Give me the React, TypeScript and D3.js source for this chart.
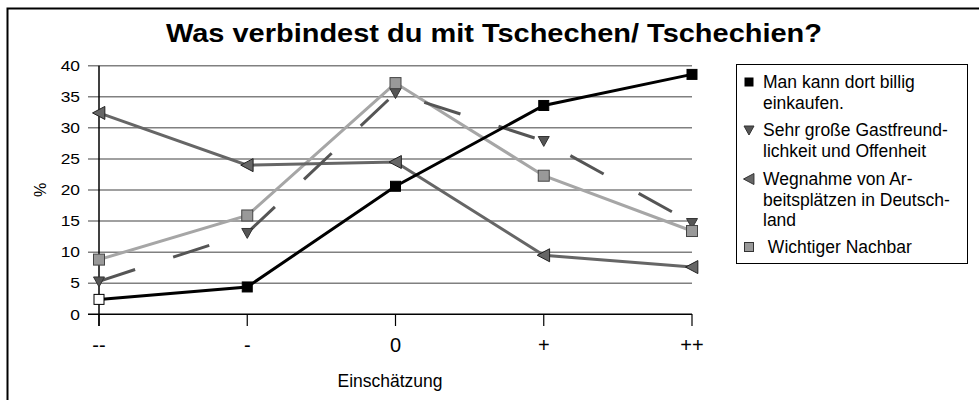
import React from "react";
import * as d3 from "d3";

const categories = ["--", "-", "0", "+", "++"];
const seriesNames = [
  ["Man kann dort billig", "einkaufen."],
  ["Sehr große Gastfreund-", "lichkeit und Offenheit"],
  ["Wegnahme von Ar-", "beitsplätzen in Deutsch-", "land"],
  [" Wichtiger Nachbar"],
];
const billig = [2.4, 4.4, 20.6, 33.6, 38.6];
const gastfreund = [5.3, 13.1, 35.6, 27.9, 14.7];
const wegnahme = [32.4, 24.0, 24.5, 9.5, 7.6];
const nachbar = [8.8, 15.9, 37.2, 22.3, 13.4];
const yTicks = [0, 5, 10, 15, 20, 25, 30, 35, 40];

const FONT = "'Liberation Sans', Arial, sans-serif";

export default function App() {
  const x = d3.scalePoint<string>().domain(categories).range([99, 692]);
  const y = d3.scaleLinear().domain([0, 40]).range([314.3, 65.7]);
  const line = d3
    .line<number>()
    .x((_, i) => x(categories[i]) as number)
    .y((d) => y(d));

  const sq = (cx: number, cy: number, s: number, fill: string, stroke: string, key: string) => (
    <rect key={key} x={cx - s / 2} y={cy - s / 2} width={s} height={s} fill={fill} stroke={stroke} strokeWidth={1} />
  );
  const triDown = (cx: number, cy: number, s: number, fill: string, stroke: string, key: string) => (
    <path
      key={key}
      d={`M${cx - s / 2},${cy - s * 0.4} L${cx + s / 2},${cy - s * 0.4} L${cx},${cy + s * 0.5} Z`}
      fill={fill}
      stroke={stroke}
      strokeWidth={1}
    />
  );
  const triLeft = (cx: number, cy: number, s: number, fill: string, stroke: string, key: string) => (
    <path
      key={key}
      d={`M${cx - s * 0.5},${cy} L${cx + s * 0.45},${cy - s / 2} L${cx + s * 0.45},${cy + s / 2} Z`}
      fill={fill}
      stroke={stroke}
      strokeWidth={1}
    />
  );

  const legendEntries = [
    { lines: seriesNames[0], y0: 82, marker: (cy: number) => sq(749, cy, 8, "#000", "#000", "l0") },
    { lines: seriesNames[1], y0: 130, marker: (cy: number) => triDown(749, cy, 10, "#555", "#333", "l1") },
    { lines: seriesNames[2], y0: 179, marker: (cy: number) => triLeft(749, cy, 11, "#666", "#333", "l2") },
    { lines: seriesNames[3], y0: 247, marker: (cy: number) => sq(749, cy, 9, "#999", "#333", "l3") },
  ];

  return (
    <svg width={979} height={400} style={{ position: "absolute", left: 0, top: 0, background: "#fff" }}>
      <rect x={7.5} y={8.5} width={1000} height={420} fill="#fff" stroke="#000" strokeWidth={2} />
      <text
        x={166}
        y={42}
        fontFamily={FONT}
        fontWeight="bold"
        fontSize={25.5}
        textLength={656}
        lengthAdjust="spacingAndGlyphs"
      >
        Was verbindest du mit Tschechen/ Tschechien?
      </text>

      {/* gridlines */}
      {yTicks.map((t) => (
        <line key={"g" + t} x1={88} x2={692} y1={y(t)} y2={y(t)} stroke={t === 0 ? "#000" : "#808080"} strokeWidth={1.5} />
      ))}
      {yTicks.map((t) => (
        <text
          key={"yt" + t}
          transform={`translate(80,${y(t)}) scale(1.2,1)`}
          dy="0.36em"
          textAnchor="end"
          fontFamily={FONT}
          fontSize={14.5}
        >
          {t}
        </text>
      ))}
      <line x1={99} x2={99} y1={65.7} y2={326} stroke="#000" strokeWidth={1.5} />
      {categories.map((c) => (
        <g key={"xt" + c}>
          <line x1={x(c)} x2={x(c)} y1={314} y2={326} stroke="#000" strokeWidth={1.2} />
          <text x={x(c)} y={345} dy="0.36em" textAnchor="middle" fontFamily={FONT} fontSize={20}>
            {c}
          </text>
        </g>
      ))}
      <text x={390} y={381} dy="0.36em" textAnchor="middle" fontFamily={FONT} fontSize={17.5}>
        Einschätzung
      </text>
      <text transform="translate(40,190) rotate(-90)" dy="0.36em" textAnchor="middle" fontFamily={FONT} fontSize={16}>
        %
      </text>

      {/* series */}
      <path d={line(nachbar) || ""} fill="none" stroke="#a6a6a6" strokeWidth={3} />
      <path d={line(wegnahme) || ""} fill="none" stroke="#666" strokeWidth={3} />
      <path d={line(gastfreund) || ""} fill="none" stroke="#555" strokeWidth={3} strokeDasharray="38 40" />
      <path d={line(billig) || ""} fill="none" stroke="#000" strokeWidth={3} />

      {wegnahme.map((v, i) => triLeft(x(categories[i]) as number, y(v), 13, "#666", "#222", "w" + i))}
      {gastfreund.map((v, i) => triDown(x(categories[i]) as number, y(v), 11, "#555", "#333", "g" + i))}
      {nachbar.map((v, i) => sq(x(categories[i]) as number, y(v), 11, "#999", "#444", "n" + i))}
      {billig.map((v, i) => sq(x(categories[i]) as number, y(v), 10, i === 0 ? "#fff" : "#000", "#000", "b" + i))}

      {/* legend */}
      <rect x={736.5} y={64.5} width={231} height={199} fill="#fff" stroke="#000" strokeWidth={1} />
      {legendEntries.map((e, k) => (
        <g key={"le" + k}>
          {e.marker(e.y0)}
          {e.lines.map((t, j) => (
            <text
              key={j}
              x={763}
              y={e.y0 + j * 20.5}
              dy="0.36em"
              fontFamily={FONT}
              fontSize={17.5}
              style={{ whiteSpace: "pre" }}
            >
              {t}
            </text>
          ))}
        </g>
      ))}
    </svg>
  );
}
